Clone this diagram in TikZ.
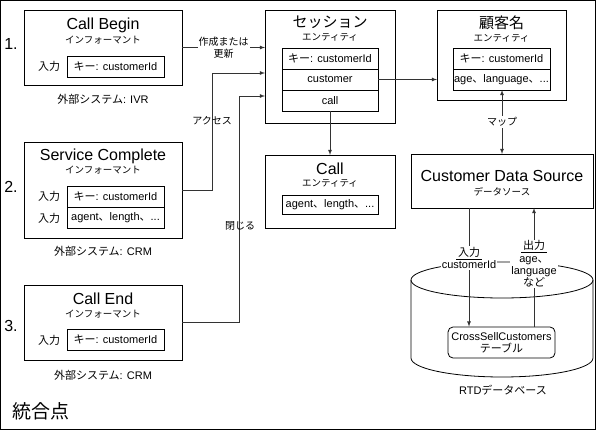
\documentclass[tikz,border=0pt]{standalone}
\usepackage{fontspec}
\setmainfont{Liberation Sans}
\newfontfamily\jp{Noto Sans CJK JP}
\usetikzlibrary{shapes,positioning,arrows,calc}

\tikzset{
  box/.style={draw, line width=0.8pt, anchor=north west, inner sep=0pt, outer sep=0pt},
  cell/.style={draw, line width=0.8pt, anchor=north west, inner sep=0pt, outer sep=0pt, minimum height=21pt, font=\fontsize{11}{13}\selectfont},
  ttl/.style={font=\fontsize{16}{18}\selectfont},
  jttl/.style={font=\jp\fontsize{15}{17}\selectfont},
  sub/.style={font=\jp\fontsize{9.5}{11}\selectfont},
  txt/.style={font=\fontsize{11}{12.3}\selectfont},
  jtxt/.style={font=\jp\fontsize{11}{13}\selectfont},
  lbl/.style={font=\jp\fontsize{10}{12}\selectfont, inner sep=1pt},
  conn/.style={draw=black!80, line width=0.8pt},
}

\begin{document}
\begin{tikzpicture}[x=1pt, y=-1pt, >=latex]
\useasboundingbox (0,0) rectangle (596,430);
\draw[line width=0.8pt] (0.5,0.5) rectangle (595.5,429.5);

% 1. Call Begin
\node[ttl] at (11,44) {1.};
\node[box, minimum width=158pt, minimum height=75pt] (cbegin) at (24,10) {};
\node[ttl] at (103,25) {Call Begin};
\node[sub] at (103,40) {インフォーマント};
\node[jtxt] at (49,66) {入力};
\node[cell, minimum width=97pt] (cbkey) at (67,56) {{\jp キー}: customerId};
\node[txt] at (103,99) {{\jp 外部システム}: IVR};

% 2. Service Complete
\node[ttl] at (11,187) {2.};
\node[box, minimum width=158pt, minimum height=96pt] (svc) at (24,142) {};
\node[ttl] at (103,156) {Service Complete};
\node[sub] at (103,170) {インフォーマント};
\node[cell, minimum width=97pt] (svkey) at (67,186) {{\jp キー}: customerId};
\node[cell, minimum width=97pt, below=0pt of svkey] (svdata) {agent{\jp 、}length{\jp 、}...};
\node[jtxt] at (49,196) {入力};
\node[jtxt] at (49,218) {入力};
\node[txt] at (103,251) {{\jp 外部システム}: CRM};

% 3. Call End
\node[ttl] at (11,326) {3.};
\node[box, minimum width=158pt, minimum height=75pt] (cend) at (24,285) {};
\node[ttl] at (103,299) {Call End};
\node[sub] at (103,314) {インフォーマント};
\node[jtxt] at (49,340) {入力};
\node[cell, minimum width=97pt] (cekey) at (67,329) {{\jp キー}: customerId};
\node[txt] at (103,375) {{\jp 外部システム}: CRM};

\node[font=\jp\fontsize{19}{21}\selectfont] at (41,411) {統合点};

% session entity
\node[box, minimum width=130pt, minimum height=113pt] (sess) at (265,10) {};
\node[jttl] at (330,22) {セッション};
\node[sub] at (330,37) {エンティティ};
\node[cell, minimum width=96pt] (skey) at (282,48) {{\jp キー}: customerId};
\node[cell, minimum width=96pt, below=0pt of skey] (scust) {customer};
\node[cell, minimum width=96pt, below=0pt of scust] (scall) {call};

% call entity
\node[box, minimum width=130pt, minimum height=73pt] (callent) at (265,155) {};
\node[ttl] at (330,169) {Call};
\node[sub] at (330,183) {エンティティ};
\node[cell, minimum width=96pt, minimum height=19pt] (cdata) at (282,195) {agent{\jp 、}length{\jp 、}...};

% customer entity
\node[box, minimum width=129pt, minimum height=90pt] (cust) at (437,10) {};
\node[jttl] at (501.5,23) {顧客名};
\node[sub] at (501.5,38) {エンティティ};
\node[cell, minimum width=97pt] (ckey) at (453,48) {{\jp キー}: customerId};
\node[cell, minimum width=97pt, below=0pt of ckey] (cage) {age{\jp 、}language{\jp 、}...};

% data source
\node[box, minimum width=182pt, minimum height=54pt] (cds) at (411,154) {};
\node[ttl] at (502,176) {Customer Data Source};
\node[sub] at (502,192) {データソース};

% RTD database
\draw[line width=0.8pt] (411,280) -- (411,358) arc[start angle=180, end angle=360, x radius=91pt, y radius=19pt] -- (593,280);
\draw[line width=0.8pt] (502,280) ellipse [x radius=91pt, y radius=18pt];
\node[draw, rounded corners=5pt, line width=0.8pt, minimum width=107pt, minimum height=31pt, align=center, inner sep=1pt, txt] (xsell) at (501.5,342.5) {CrossSellCustomers\\{\jp テーブル}};
\node[txt] at (503,390) {RTD{\jp データベース}};

% connectors
\draw[conn, ->] (cbegin.east) -- (cbegin.east -| sess.west) node[lbl, midway, fill=white, align=center] {作成または\\更新};
\coordinate (acc) at (212,73);
\draw[conn, ->] (svc.east) -| (acc) -- (acc -| sess.west);
\node[lbl] at (212,121) {アクセス};
\coordinate (cls) at (239,96);
\draw[conn, ->] (cend.east) -| (cls) -- (cls -| sess.west);
\node[lbl] at (240,226) {閉じる};

\draw[conn, ->] (scall.south) -- (callent.north);
\draw[conn, ->] (scust.east) -- (scust.east -| cust.west);

\coordinate (map) at (502,0);
\draw[conn, <->] (cage.south -| map) -- (cds.north -| map) node[lbl, midway, fill=white] {マップ};

\coordinate (inp) at (469,0);
\coordinate (outp) at (534,0);
\draw[conn, ->] (cds.south -| inp) -- (xsell.north -| inp);
\draw[conn, ->] (xsell.north -| outp) -- (cds.south -| outp);
\node[txt, fill=white, align=center, inner sep=1pt] at (469,258) {\underline{\jp\,入力\,}\\customerId};
\node[txt, fill=white, align=center, inner sep=1pt] at (534,264) {\underline{\jp\,出力\,}\\age{\jp 、}\\language\\{\jp など}};
\end{tikzpicture}
\end{document}
